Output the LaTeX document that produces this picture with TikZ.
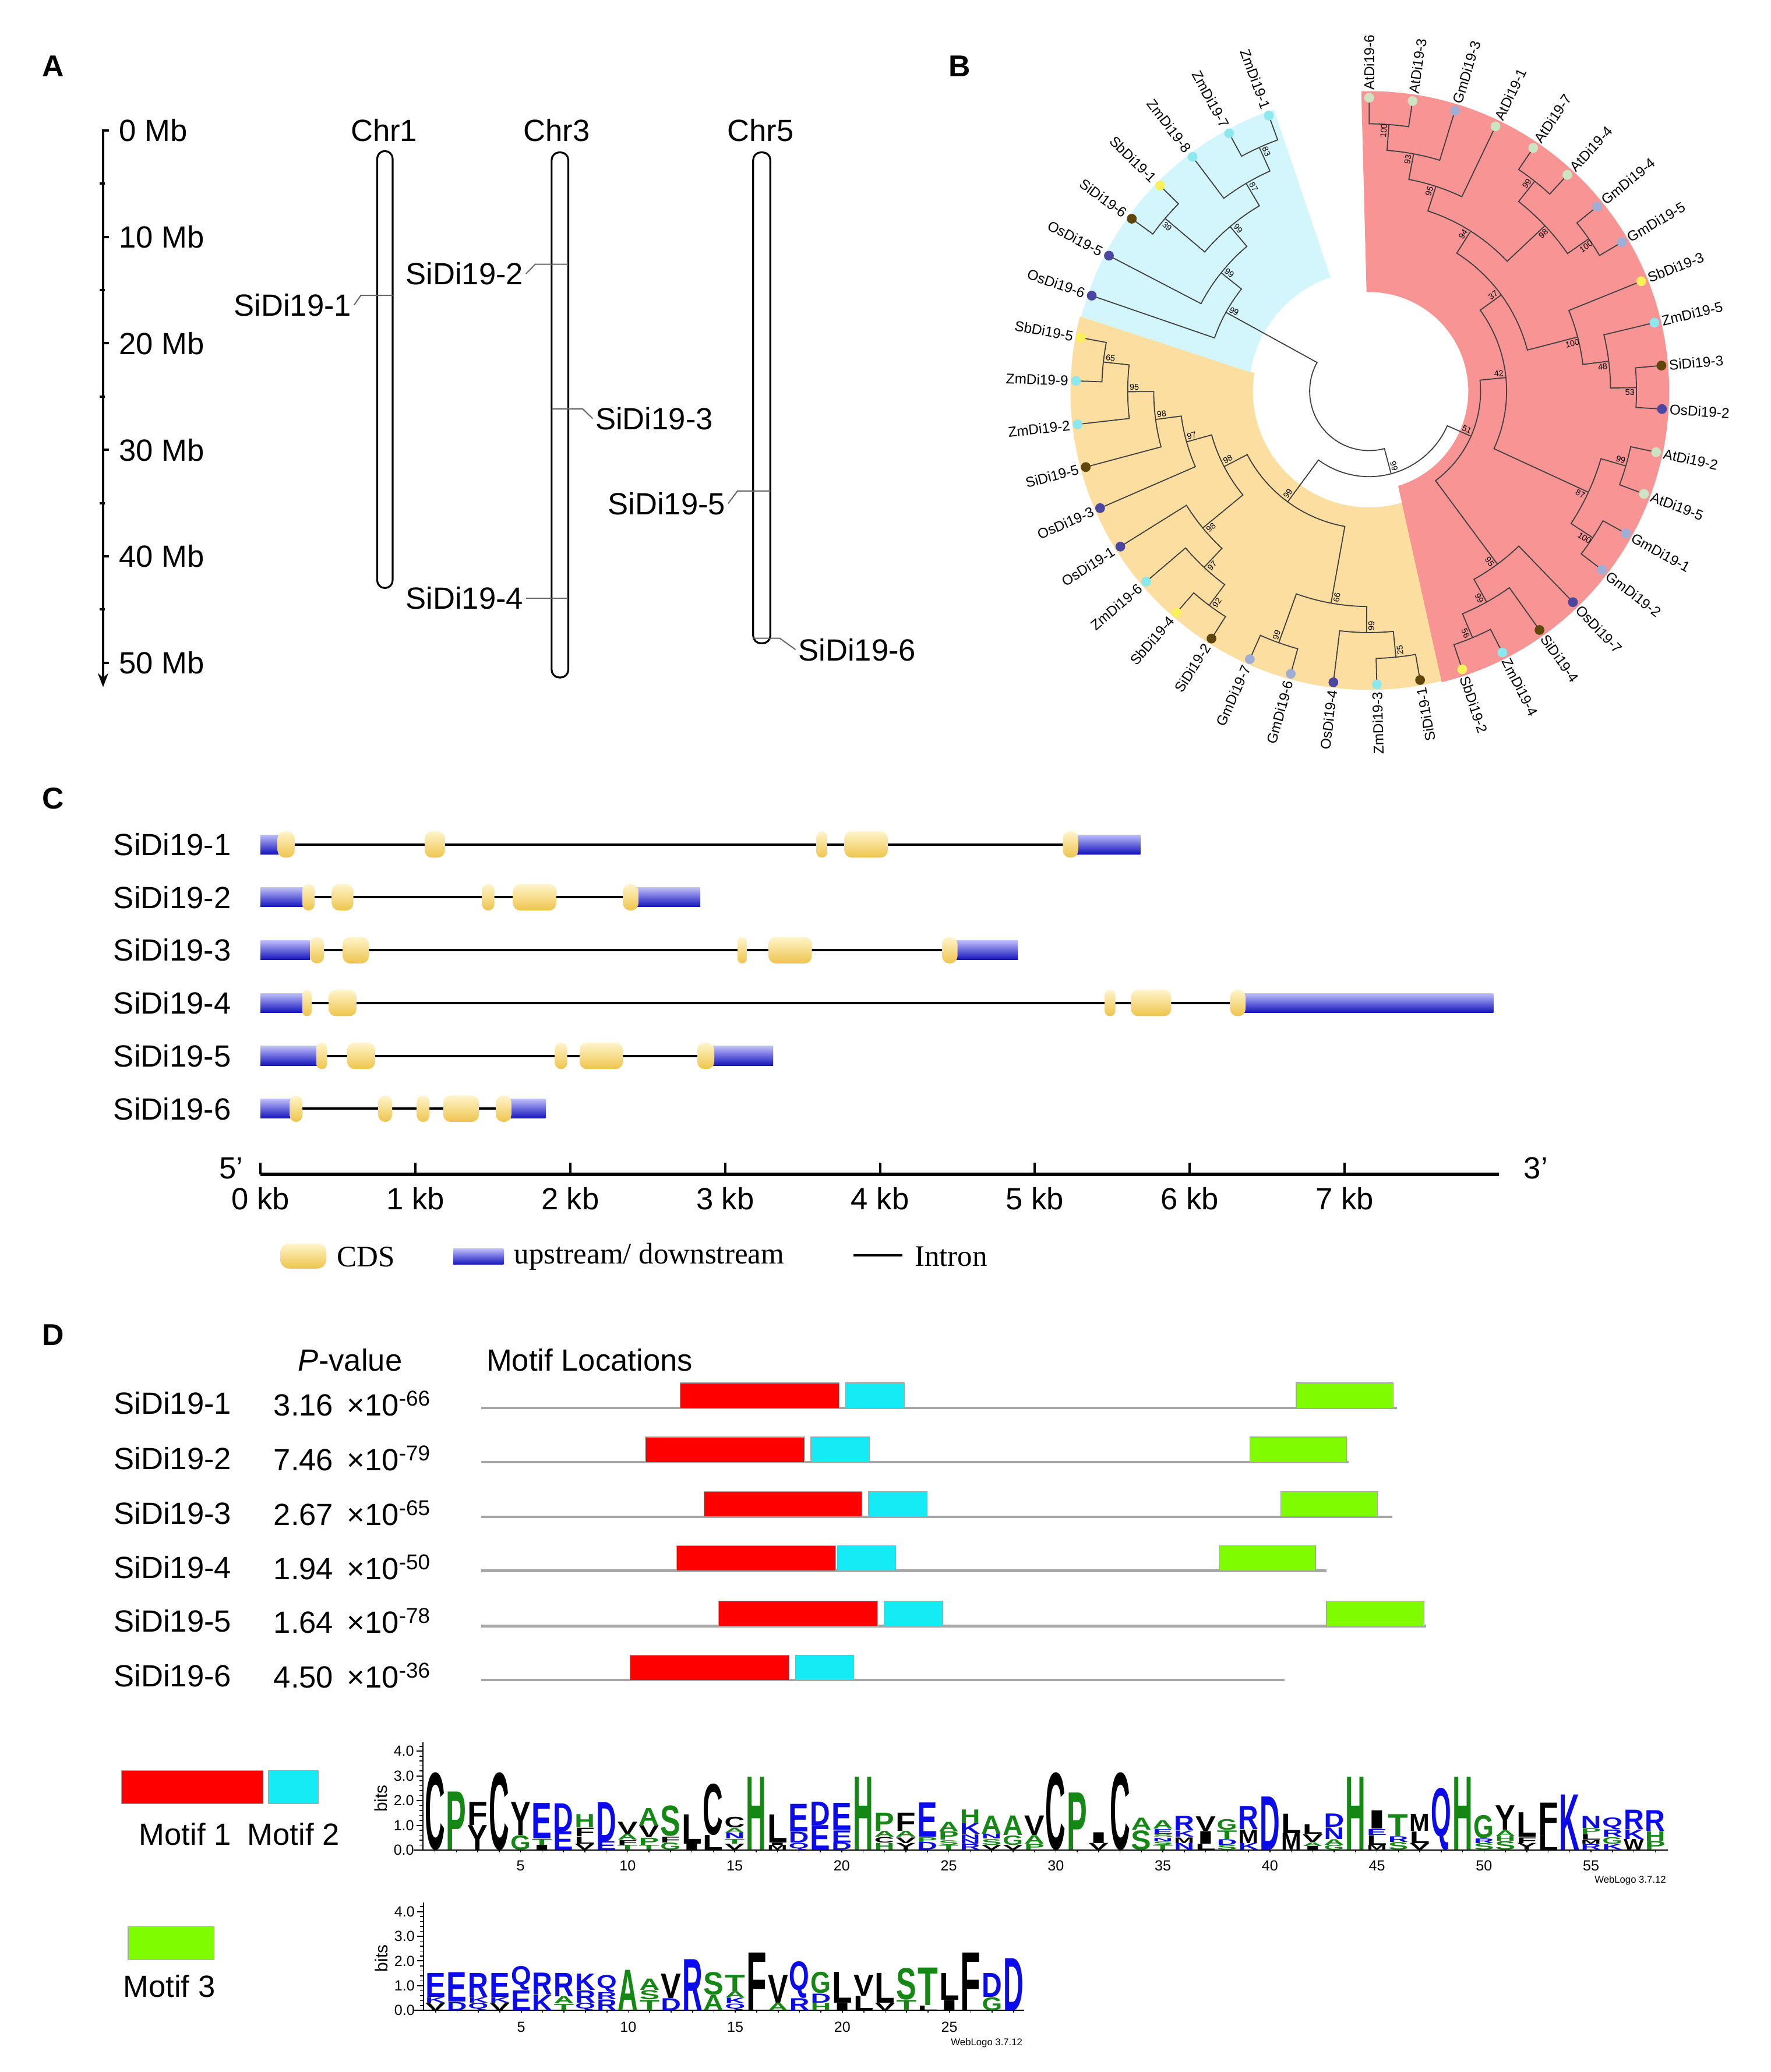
\documentclass[tikz,border=0pt]{standalone}
\usepackage{fontspec}
\setmainfont{Liberation Sans}
\newfontfamily\legserif{Liberation Serif}
\usepackage{graphicx}
\usetikzlibrary{arrows.meta}

% colours
\definecolor{secred}{RGB}{248,148,148}
\definecolor{secorange}{RGB}{252,222,160}
\definecolor{secblue}{RGB}{210,246,252}
\definecolor{atcol}{RGB}{205,228,195}
\definecolor{gmcol}{RGB}{160,174,214}
\definecolor{sbcol}{RGB}{250,240,90}
\definecolor{zmcol}{RGB}{140,232,236}
\definecolor{sicol}{RGB}{95,70,10}
\definecolor{oscol}{RGB}{75,70,160}
\definecolor{utrtop}{RGB}{190,190,250}
\definecolor{utrmid}{RGB}{70,70,225}
\definecolor{utrbot}{RGB}{20,20,190}
\definecolor{cdstop}{RGB}{255,245,205}
\definecolor{cdsmid}{RGB}{248,218,120}
\definecolor{cdsbot}{RGB}{238,196,76}
\definecolor{motifred}{RGB}{255,0,0}
\definecolor{motifcyan}{RGB}{20,235,245}
\definecolor{motifgreen}{RGB}{128,252,0}
\definecolor{wlgreen}{RGB}{20,135,20}
\definecolor{wlblue}{RGB}{10,10,235}

% weblogo letter colours
\def\wlA{wlgreen}\def\wlG{wlgreen}\def\wlH{wlgreen}\def\wlP{wlgreen}\def\wlS{wlgreen}\def\wlT{wlgreen}
\def\wlD{wlblue}\def\wlE{wlblue}\def\wlK{wlblue}\def\wlN{wlblue}\def\wlQ{wlblue}\def\wlR{wlblue}
\def\wlC{black}\def\wlF{black}\def\wlI{black}\def\wlL{black}\def\wlM{black}\def\wlV{black}\def\wlW{black}\def\wlY{black}

\tikzset{
  panel/.style={font=\fontsize{13}{15}\selectfont\bfseries, inner sep=0pt},
  lab/.style={font=\fontsize{13.2}{15}\selectfont, inner sep=1pt},
  leaflab/.style={font=\fontsize{6.1}{7}\selectfont, inner sep=0pt},
  bslab/.style={font=\fontsize{3.6}{4}\selectfont, inner sep=0pt},
  chrom/.style={draw, line width=0.8pt, rounded corners=3.3pt},
  lead/.style={draw=black!60, line width=0.5pt},
  brn/.style={draw=black!75, line width=0.45pt},
  utrshade/.style={top color=utrtop, middle color=utrmid, bottom color=utrbot},
  cdsshade/.style={top color=cdstop, middle color=cdsmid, bottom color=cdsbot},
  intronline/.style={draw=black, line width=1pt},
  gline/.style={draw=black!35, line width=1.1pt},
  motbox/.style={draw=black!35, line width=0.3pt},
  axlab/.style={font=\fontsize{6.3}{7}\selectfont, inner sep=0.5pt},
  wlver/.style={font=\fontsize{4.2}{5}\selectfont, inner sep=0pt}
}

% circular tree helpers (angles in degrees, radii in px)
\newcommand{\clade}[5]{\draw[brn] (#1:#2) -- (#1:#5) arc[start angle=#1, end angle=#3, radius=#5] -- (#3:#4);}
\newcommand{\leaf}[3]{%
  \fill[#3] (#1:222) circle[radius=3.7];
  \ifdim #1pt<-76pt
    \node[leaflab, rotate=#1+180, anchor=east] at (#1:227.5) {#2};
  \else
    \node[leaflab, rotate=#1, anchor=west] at (#1:227.5) {#2};
  \fi}
\newcommand{\bsv}[4]{%
  \pgfmathsetmacro\bsr{#2-5}%
  \pgfmathsetmacro\bsa{#1+#3*3.6/\bsr*57.3}%
  \ifdim #1pt<-76pt \def\bsrot{#1+180}\else\def\bsrot{#1}\fi
  \node[bslab, rotate=\bsrot] at (\bsa:\bsr) {#4};}

% gene structure helpers (row y, start kb, end kb)
\newcommand{\intron}[3]{\draw[intronline] ({197.1+117.2*#2},#1) -- ({197.1+117.2*#3},#1);}
\newcommand{\utr}[3]{\shade[utrshade] ({197.1+117.2*#2},{#1-7.3}) rectangle ({197.1+117.2*#3},{#1+7.3});}
\newcommand{\cds}[3]{%
  \pgfmathsetmacro\cw{(#3-#2)*117.2}%
  \pgfmathsetmacro\rc{min(5.5,\cw/2)*0.569}%
  \shade[cdsshade, rounded corners=\rc pt] ({197.1+117.2*#2},{#1-10}) rectangle ({197.1+117.2*#3},{#1+10});}

% motif track helper (line y, red x1, red x2, cyan x1, cyan x2)
\newcommand{\motifs}[5]{%
  \fill[motifred, motbox] (#2,{#1-19}) rectangle (#3,#1);
  \fill[motifcyan, motbox] (#4,{#1-19}) rectangle (#5,#1);}

% weblogo column: position, letters bottom to top
\newcommand{\lcol}[2]{%
  \gdef\stk{0}%
  \foreach \L/\h in {#2}{%
    \pgfmathsetlengthmacro\lh{\h*10.64pt-0.15pt}%
    \edef\lc{\csname wl\L\endcsname}%
    \node[inner sep=0pt, outer sep=0pt, anchor=south west] at ({\logox+16.2*#1},{\logoy-\stk*18.7})
      {\color{\lc}\resizebox*{8.7pt}{\lh}{\bfseries\L}};%
    \pgfmathsetmacro\tmp{\stk+\h}\global\let\stk\tmp
  }}

\begin{document}
\begin{tikzpicture}[x=0.02cm, y=-0.02cm]
\path[use as bounding box, fill=white] (0,0) rectangle (1340,1568);

% =====================
% A: chromosome map
% =====================
\node[panel] (pA) at (40,50) {A};
\draw[line width=1.2pt, -{Stealth[length=6pt,width=4.5pt]}] (78,97.8) -- (78,520);
\foreach \k in {0,...,5}{
  \pgfmathtruncatemacro\mb{10*\k}
  \draw[line width=1pt] (77.5,{98.6+80.6*\k}) -- ++(5,0);
  \node[lab, anchor=west] at (88,{98.6+80.6*\k}) {\mb\ Mb};
}
\foreach \k in {0,...,4}
  \draw[line width=1pt] (75.5,{138.9+80.6*\k}) -- ++(4,0);

\node[lab] (chr1) at (290.6,98.6) {Chr1};
\node[lab] (chr3) at (421.3,98.6) {Chr3};
\node[lab] (chr5) at (575.5,98.6) {Chr5};
\draw[chrom] (285.4,114.3) rectangle (297.1,445);
\draw[chrom] (417.4,115.3) rectangle (430,512.7);
\draw[chrom] (569.9,115.3) rectangle (582.9,486.8);

\node[lab, anchor=east] (a1) at (268,230.8) {SiDi19-1};
\node[lab, anchor=east] (a2) at (398,207.2) {SiDi19-2};
\node[lab, anchor=west] (a3) at (448.5,316.8) {SiDi19-3};
\node[lab, anchor=east] (a4) at (398,452.8) {SiDi19-4};
\node[lab, anchor=east] (a5) at (551,381) {SiDi19-5};
\node[lab, anchor=west] (a6) at (602,491.6) {SiDi19-6};
\draw[lead] (a1.east) -- (273,223.6) -- (297.1,223.6);
\draw[lead] (a2.east) -- (405,200) -- (430,200);
\draw[lead] (417.4,309.5) -- (441,309.5) -- (a3.west);
\draw[lead] (a4.east) -- (430,452.8);
\draw[lead] (a5.east) -- (558,371.6) -- (582.9,371.6);
\draw[lead] (569.9,483) -- (590,483) -- (a6.west);

% =====================
% B: circular tree
% =====================
\node[panel] (pB) at (726,50) {B};
\coordinate (Bc) at (1036,296);
\begin{scope}[shift={(Bc)}, x=0.02cm, y=0.02cm]
% clade backgrounds
\fill[secorange] (-76:226) arc[start angle=-76, end angle=-194.5, radius=226] -- (-189:88)
  arc[start angle=-189, end angle=-73, radius=88] -- cycle;
\fill[secblue] (165.5:225) arc[start angle=165.5, end angle=108.7, radius=225] -- (108.7:91)
  arc[start angle=108.7, end angle=171, radius=91] -- cycle;
\fill[secred] (91.5:227) arc[start angle=91.5, end angle=-76, radius=227] -- (-73:75)
  arc[start angle=-73, end angle=91.5, radius=75] -- cycle;

% red clade
\clade{90}{222}{81.5}{222}{202.3}
\clade{85.75}{202.3}{73}{222}{182.7}
\clade{79.375}{182.7}{64.5}{222}{163}
\clade{56}{222}{47.5}{222}{202.3}
\clade{39}{222}{30.5}{222}{202.3}
\clade{51.75}{202.3}{34.75}{202.3}{182.7}
\clade{71.94}{163}{43.25}{182.7}{143.4}
\clade{5}{222}{-3.5}{222}{202.3}
\clade{13.5}{222}{0.75}{202.3}{182.7}
\clade{22}{222}{7.125}{182.7}{163}
\clade{57.6}{143.4}{14.56}{163}{123.7}
\clade{-12}{222}{-20.5}{222}{202.3}
\clade{-29}{222}{-37.5}{222}{202.3}
\clade{-16.25}{202.3}{-33.25}{202.3}{182.7}
\clade{36.08}{123.7}{-24.75}{182.7}{104}
\clade{-63}{222}{-71.5}{222}{202.3}
\clade{-54.5}{222}{-67.25}{202.3}{182.7}
\clade{-46}{222}{-60.875}{182.7}{163}
\clade{5.67}{104}{-53.44}{163}{84.3}
% orange clade
\clade{-182}{222}{-190.5}{222}{202.3}
\clade{-173.5}{222}{-186.25}{202.3}{182.7}
\clade{-165}{222}{-179.875}{182.7}{163}
\clade{-156.5}{222}{-172.44}{163}{143.4}
\clade{-131}{222}{-122.5}{222}{202.3}
\clade{-139.5}{222}{-126.75}{202.3}{182.7}
\clade{-148}{222}{-133.125}{182.7}{163}
\clade{-164.47}{143.4}{-140.56}{163}{123.7}
\clade{-114}{222}{-105.5}{222}{202.3}
\clade{-88.5}{222}{-80}{222}{202.3}
\clade{-97}{222}{-84.25}{202.3}{182.7}
\clade{-109.75}{202.3}{-90.625}{182.7}{163}
\clade{-152.5}{123.7}{-100.19}{163}{104}
% blue clade
\clade{-250}{222}{-241.5}{222}{202.3}
\clade{-245.75}{202.3}{-233}{222}{182.7}
\clade{-224.5}{222}{-216}{222}{202.3}
\clade{-239.375}{182.7}{-220.25}{202.3}{163}
\clade{-229.81}{163}{-207.5}{222}{143.4}
\clade{-218.66}{143.4}{-199}{222}{123.7}
% root
\clade{-126.35}{104}{-23.89}{84.3}{64.7}
\clade{-208.83}{123.7}{-75.12}{64.7}{45}

% bootstrap values
\bsv{85.75}{202.3}{1}{100}
\bsv{79.375}{182.7}{1}{93}
\bsv{71.94}{163}{1}{95}
\bsv{51.75}{202.3}{1}{99}
\bsv{34.75}{202.3}{-1}{100}
\bsv{43.25}{182.7}{-1}{98}
\bsv{57.6}{143.4}{1}{94}
\bsv{0.75}{202.3}{-1}{53}
\bsv{7.125}{182.7}{-1}{48}
\bsv{14.56}{163}{-1}{100}
\bsv{36.08}{123.7}{1}{37}
\bsv{-16.25}{202.3}{1}{99}
\bsv{-33.25}{202.3}{-1}{100}
\bsv{-24.75}{182.7}{-1}{87}
\bsv{5.67}{104}{1}{42}
\bsv{-67.25}{202.3}{-1}{56}
\bsv{-60.875}{182.7}{-1}{99}
\bsv{-53.44}{163}{-1}{95}
\bsv{-23.89}{84.3}{1}{51}
\bsv{-186.25}{202.3}{-1}{65}
\bsv{-179.875}{182.7}{-1}{95}
\bsv{-172.44}{163}{-1}{98}
\bsv{-164.47}{143.4}{-1}{97}
\bsv{-126.75}{202.3}{1}{92}
\bsv{-133.125}{182.7}{1}{97}
\bsv{-140.56}{163}{1}{98}
\bsv{-152.5}{123.7}{-1}{98}
\bsv{-109.75}{202.3}{-1}{99}
\bsv{-84.25}{202.3}{1}{25}
\bsv{-90.625}{182.7}{1}{99}
\bsv{-100.19}{163}{1}{66}
\bsv{-126.35}{104}{-1}{99}
\bsv{-245.75}{202.3}{-1}{83}
\bsv{-239.375}{182.7}{-1}{87}
\bsv{-220.25}{202.3}{1}{39}
\bsv{-229.81}{163}{-1}{99}
\bsv{-218.66}{143.4}{-1}{99}
\bsv{-208.83}{123.7}{-1}{99}
\bsv{-75.12}{64.7}{1}{99}

% leaves
\leaf{90}{AtDi19-6}{atcol}
\leaf{81.5}{AtDi19-3}{atcol}
\leaf{73}{GmDi19-3}{gmcol}
\leaf{64.5}{AtDi19-1}{atcol}
\leaf{56}{AtDi19-7}{atcol}
\leaf{47.5}{AtDi19-4}{atcol}
\leaf{39}{GmDi19-4}{gmcol}
\leaf{30.5}{GmDi19-5}{gmcol}
\leaf{22}{SbDi19-3}{sbcol}
\leaf{13.5}{ZmDi19-5}{zmcol}
\leaf{5}{SiDi19-3}{sicol}
\leaf{-3.5}{OsDi19-2}{oscol}
\leaf{-12}{AtDi19-2}{atcol}
\leaf{-20.5}{AtDi19-5}{atcol}
\leaf{-29}{GmDi19-1}{gmcol}
\leaf{-37.5}{GmDi19-2}{gmcol}
\leaf{-46}{OsDi19-7}{oscol}
\leaf{-54.5}{SiDi19-4}{sicol}
\leaf{-63}{ZmDi19-4}{zmcol}
\leaf{-71.5}{SbDi19-2}{sbcol}
\leaf{-80}{SiDi19-1}{sicol}
\leaf{-88.5}{ZmDi19-3}{zmcol}
\leaf{-97}{OsDi19-4}{oscol}
\leaf{-105.5}{GmDi19-6}{gmcol}
\leaf{-114}{GmDi19-7}{gmcol}
\leaf{-122.5}{SiDi19-2}{sicol}
\leaf{-131}{SbDi19-4}{sbcol}
\leaf{-139.5}{ZmDi19-6}{zmcol}
\leaf{-148}{OsDi19-1}{oscol}
\leaf{-156.5}{OsDi19-3}{oscol}
\leaf{-165}{SiDi19-5}{sicol}
\leaf{-173.5}{ZmDi19-2}{zmcol}
\leaf{-182}{ZmDi19-9}{zmcol}
\leaf{-190.5}{SbDi19-5}{sbcol}
\leaf{-199}{OsDi19-6}{oscol}
\leaf{-207.5}{OsDi19-5}{oscol}
\leaf{-216}{SiDi19-6}{sicol}
\leaf{-224.5}{SbDi19-1}{sbcol}
\leaf{-233}{ZmDi19-8}{zmcol}
\leaf{-241.5}{ZmDi19-7}{zmcol}
\leaf{-250}{ZmDi19-1}{zmcol}
\end{scope}

% =====================
% C: gene structures
% =====================
\node[panel] (pC) at (40,604) {C};
% SiDi19-1
\node[lab, anchor=east] (c1) at (177,639) {SiDi19-1};
\intron{639}{0.05}{5.6}
\utr{639}{0}{0.12}\utr{639}{5.27}{5.68}
\cds{639}{0.11}{0.22}\cds{639}{1.06}{1.19}\cds{639}{3.59}{3.66}\cds{639}{3.77}{4.05}\cds{639}{5.18}{5.28}
% SiDi19-2
\node[lab, anchor=east] (c2) at (177,679) {SiDi19-2};
\intron{679}{0.1}{2.5}
\utr{679}{0}{0.28}\utr{679}{2.43}{2.84}
\cds{679}{0.27}{0.35}\cds{679}{0.46}{0.60}\cds{679}{1.43}{1.51}\cds{679}{1.63}{1.91}\cds{679}{2.34}{2.44}
% SiDi19-3
\node[lab, anchor=east] (c3) at (177,719) {SiDi19-3};
\intron{719}{0.1}{4.6}
\utr{719}{0}{0.32}\utr{719}{4.49}{4.89}
\cds{719}{0.32}{0.41}\cds{719}{0.53}{0.70}\cds{719}{3.08}{3.14}\cds{719}{3.28}{3.56}\cds{719}{4.40}{4.50}
% SiDi19-4
\node[lab, anchor=east] (c4) at (177,759) {SiDi19-4};
\intron{759}{0.1}{6.5}
\utr{759}{0}{0.28}\utr{759}{6.35}{7.96}
\cds{759}{0.27}{0.33}\cds{759}{0.44}{0.62}\cds{759}{5.45}{5.52}\cds{759}{5.62}{5.88}\cds{759}{6.26}{6.36}
% SiDi19-5
\node[lab, anchor=east] (c5) at (177,799) {SiDi19-5};
\intron{799}{0.1}{3.0}
\utr{799}{0}{0.37}\utr{799}{2.92}{3.31}
\cds{799}{0.36}{0.43}\cds{799}{0.56}{0.74}\cds{799}{1.90}{1.98}\cds{799}{2.06}{2.34}\cds{799}{2.82}{2.93}
% SiDi19-6
\node[lab, anchor=east] (c6) at (177,839) {SiDi19-6};
\intron{839}{0.1}{1.7}
\utr{839}{0}{0.20}\utr{839}{1.61}{1.84}
\cds{839}{0.19}{0.27}\cds{839}{0.76}{0.85}\cds{839}{1.01}{1.09}\cds{839}{1.18}{1.41}\cds{839}{1.52}{1.62}

% kb scale
\draw[line width=1.5pt] (197.1,888.7) -- (1134.4,888.7);
\foreach \k in {0,...,7}{
  \draw[line width=1pt] ({197.1+117.2*\k},888.7) -- ++(0,-9);
  \node[lab] at ({197.1+117.2*\k},907) {\k\ kb};
}
\node[lab, anchor=east] (p5) at (186,884) {5’};
\node[lab, anchor=west] (p3) at (1151,884) {3’};

% legend
\shade[cdsshade, rounded corners=4pt] (212,941) rectangle (247,960);
\node[lab, anchor=west, font=\legserif\fontsize{12.8}{15}\selectfont] (lcds) at (253,951) {CDS};
\shade[utrshade] (343,945) rectangle (381,957);
\node[lab, anchor=west, font=\legserif\fontsize{12.8}{15}\selectfont] (lutr) at (387,951) {upstream/ downstream};
\draw[intronline] (646,950) -- (683,950);
\node[lab, anchor=west, font=\legserif\fontsize{12.8}{15}\selectfont] (lint) at (690,951) {Intron};

% =====================
% D: motifs
% =====================
\node[panel] (pD) at (40,1010) {D};
\node[lab] (pvh) at (265,1029) {\textit{P}-value};
\node[lab, anchor=west] (mlh) at (366,1029) {Motif Locations};

\node[lab, anchor=west] (d1) at (84,1062) {SiDi19-1};
\node[lab, anchor=west] (v1) at (205,1062) {3.16 \,×10\textsuperscript{-66}};
\draw[gline] (364,1065.5) -- (1057,1065.5);
\motifs{1065.5}{514.7}{635.1}{639.9}{684.2}
\fill[motifgreen, motbox] (980.8,1046.5) rectangle (1054.2,1065.5);

\node[lab, anchor=west] (d2) at (84,1103.5) {SiDi19-2};
\node[lab, anchor=west] (v2) at (205,1103.5) {7.46 \,×10\textsuperscript{-79}};
\draw[gline] (364,1106.5) -- (1020.3,1106.5);
\motifs{1106.5}{488.4}{608.8}{613.6}{657.9}
\fill[motifgreen, motbox] (945.6,1087.5) rectangle (1018.9,1106.5);

\node[lab, anchor=west] (d3) at (84,1145) {SiDi19-3};
\node[lab, anchor=west] (v3) at (205,1145) {2.67 \,×10\textsuperscript{-65}};
\draw[gline] (364,1147.8) -- (1053.5,1147.8);
\motifs{1147.8}{532.7}{652.3}{657.2}{701.4}
\fill[motifgreen, motbox] (969.1,1128.8) rectangle (1042.4,1147.8);

\node[lab, anchor=west] (d4) at (84,1186) {SiDi19-4};
\node[lab, anchor=west] (v4) at (205,1186) {1.94 \,×10\textsuperscript{-50}};
\draw[gline] (364,1188.7) -- (1003.7,1188.7);
\motifs{1188.7}{512}{632.3}{633.7}{677.9}
\fill[motifgreen, motbox] (922.8,1169.7) rectangle (995.4,1188.7);

\node[lab, anchor=west] (d5) at (84,1226.5) {SiDi19-5};
\node[lab, anchor=west] (v5) at (205,1226.5) {1.64 \,×10\textsuperscript{-78}};
\draw[gline] (364,1230.5) -- (1079,1230.5);
\motifs{1230.5}{543.8}{664.1}{669}{713.2}
\fill[motifgreen, motbox] (1003.7,1211.5) rectangle (1077.7,1230.5);

\node[lab, anchor=west] (d6) at (84,1268) {SiDi19-6};
\node[lab, anchor=west] (v6) at (205,1268) {4.50 \,×10\textsuperscript{-36}};
\draw[gline] (364,1271.4) -- (971.9,1271.4);
\motifs{1271.4}{476.7}{597}{601.9}{646.1}

% motif legend
\fill[motifred, motbox] (92,1340) rectangle (199,1365);
\fill[motifcyan, motbox] (203,1340) rectangle (241,1365);
\node[lab] (m1) at (140,1388) {Motif 1};
\node[lab] (m2) at (222,1388) {Motif 2};
\fill[motifgreen, motbox] (97,1458) rectangle (162,1483);
\node[lab] (m3) at (128,1503) {Motif 3};

% =====================
% Sequence logo, motif 1
% =====================
\def\logox{305.2}\def\logoy{1400}
\draw[line width=0.5pt] (320,1400) -- (320,1318.5);
\foreach \t in {0,...,4}{
  \draw[line width=0.5pt] (320,{1400-18.7*\t}) -- ++(-5,0);
  \node[axlab, anchor=east] at (314.5,{1400-18.7*\t}) {\t.0};
}
\foreach \t in {1,...,21}
  \draw[line width=0.4pt] (320,{1400-3.74*\t}) -- ++(-2.5,0);
\node[font=\fontsize{7.5}{8}\selectfont, rotate=90, inner sep=0pt] (bits1) at (288,1361) {bits};
\draw[line width=0.5pt] (313,1400) -- (1262,1400);
\foreach \p in {1,...,58}
  \draw[line width=0.4pt] ({312.9+16.2*\p},1400) -- ++(0,1.8);
\foreach \p in {5,10,...,55}
  \node[axlab] at ({312.9+16.2*\p},1412) {\p};
\node[wlver, anchor=east] (wl1) at (1261,1423) {WebLogo 3.7.12};

\lcol{1}{C/3.16}
\lcol{2}{P/2.36}
\lcol{3}{Y/1.0, F/0.95}
\lcol{4}{C/3.16}
\lcol{5}{G/0.6, Y/1.35}
\lcol{6}{I/0.2, T/0.25, E/1.45}
\lcol{7}{E/0.75, D/1.15}
\lcol{8}{V/0.25, L/0.3, F/0.35, H/0.55}
\lcol{9}{E/0.35, D/1.6}
\lcol{10}{T/0.2, F/0.2, A/0.25, V/0.5}
\lcol{11}{T/0.2, P/0.3, V/0.5, A/0.7}
\lcol{12}{G/0.3, F/0.25, S/1.25}
\lcol{13}{I/0.25, L/1.2}
\lcol{14}{L/0.6, C/2.1}
\lcol{15}{V/0.25, T/0.2, N/0.25, A/0.2, C/0.45}
\lcol{16}{H/2.96}
\lcol{17}{M/0.2, I/0.1, L/1.15}
\lcol{18}{Q/0.3, D/0.45, E/1.13}
\lcol{19}{E/1.0, D/0.96}
\lcol{20}{D/0.3, E/0.5, E/1.1}
\lcol{21}{H/2.96}
\lcol{22}{H/0.28, C/0.24, A/0.25, P/0.75}
\lcol{23}{Y/0.28, V/0.24, A/0.25, F/0.75}
\lcol{24}{D/0.32, P/0.2, E/1.4}
\lcol{25}{T/0.2, S/0.2, P/0.35, A/0.4}
\lcol{26}{R/0.24, N/0.2, N/0.2, K/0.45, H/0.55}
\lcol{27}{V/0.2, S/0.25, N/0.2, A/0.75}
\lcol{28}{V/0.2, G/0.4, A/0.8}
\lcol{29}{P/0.24, A/0.36, V/0.8}
\lcol{30}{C/3.16}
\lcol{31}{P/2.32}
\lcol{32}{V/0.28, I/0.45}
\lcol{33}{C/3.16}
\lcol{34}{S/0.8, A/0.5}
\lcol{35}{T/0.2, S/0.15, N/0.15, S/0.15, E/0.2, A/0.35}
\lcol{36}{N/0.28, M/0.24, K/0.26, R/0.6}
\lcol{37}{L/0.24, I/0.52, V/0.6}
\lcol{38}{S/0.2, D/0.24, T/0.36, G/0.45}
\lcol{39}{K/0.28, M/0.56, R/0.95}
\lcol{40}{D/2.16}
\lcol{41}{M/0.68, L/0.8}
\lcol{42}{I/0.16, A/0.16, V/0.32, L/0.4}
\lcol{43}{G/0.2, A/0.24, N/0.48, D/0.55}
\lcol{44}{H/2.96}
\lcol{45}{M/0.2, L/0.4, E/0.25, I/0.75}
\lcol{46}{S/0.32, R/0.24, T/0.9}
\lcol{47}{V/0.28, L/0.48, M/0.7}
\lcol{48}{Q/2.52}
\lcol{49}{H/2.96}
\lcol{50}{S/0.28, R/0.2, G/0.95}
\lcol{51}{S/0.36, H/0.2, A/0.25, Y/1.0}
\lcol{52}{Y/0.28, F/0.24, L/1.0}
\lcol{53}{L/0.6, F/1.32}
\lcol{54}{K/2.24}
\lcol{55}{R/0.24, M/0.16, L/0.24, P/0.24, N/0.5}
\lcol{56}{K/0.24, G/0.28, R/0.3, Q/0.5}
\lcol{57}{W/0.44, K/0.4, R/0.8}
\lcol{58}{P/0.36, H/0.4, R/0.85}

% =====================
% Sequence logo, motif 3
% =====================
\def\logox{305.7}\def\logoy{1521.4}
\draw[line width=0.5pt] (320.5,1521.4) -- (320.5,1439.9);
\foreach \t in {0,...,4}{
  \draw[line width=0.5pt] (320.5,{1521.4-18.7*\t}) -- ++(-5,0);
  \node[axlab, anchor=east] at (315,{1521.4-18.7*\t}) {\t.0};
}
\foreach \t in {1,...,21}
  \draw[line width=0.4pt] (320.5,{1521.4-3.74*\t}) -- ++(-2.5,0);
\node[font=\fontsize{7.5}{8}\selectfont, rotate=90, inner sep=0pt] (bits2) at (288.5,1482) {bits};
\draw[line width=0.5pt] (313.5,1521.4) -- (775,1521.4);
\foreach \p in {1,...,28}
  \draw[line width=0.4pt] ({313.4+16.2*\p},1521.4) -- ++(0,1.8);
\foreach \p in {5,10,...,25}
  \node[axlab] at ({313.4+16.2*\p},1534) {\p};
\node[wlver, anchor=east] (wl2) at (774,1546) {WebLogo 3.7.12};

\lcol{1}{V/0.31, K/0.24, E/0.98}
\lcol{2}{D/0.35, E/1.2}
\lcol{3}{Q/0.31, K/0.24, R/0.98}
\lcol{4}{V/0.31, K/0.24, E/0.98}
\lcol{5}{E/0.82, Q/0.98}
\lcol{6}{K/0.63, R/0.9}
\lcol{7}{T/0.27, A/0.3, R/0.96}
\lcol{8}{Q/0.31, R/0.51, K/0.67}
\lcol{9}{R/0.45, R/0.3, Q/0.7}
\lcol{10}{A/1.65}
\lcol{11}{T/0.43, S/0.39, A/0.47}
\lcol{12}{D/0.5, V/1.0}
\lcol{13}{R/2.08}
\lcol{14}{A/0.63, S/0.94}
\lcol{15}{Q/0.27, K/0.24, A/0.27, T/0.67}
\lcol{16}{F/2.35}
\lcol{17}{A/0.31, V/1.14}
\lcol{18}{R/0.5, Q/1.5}
\lcol{19}{H/0.31, D/0.38, G/0.88}
\lcol{20}{I/0.31, L/1.26}
\lcol{21}{L/0.59, V/0.86}
\lcol{22}{V/0.31, L/1.22}
\lcol{23}{T/0.43, S/1.3}
\lcol{24}{L/0.2, T/1.53}
\lcol{25}{I/0.43, L/1.1}
\lcol{26}{F/2.35}
\lcol{27}{G/0.55, D/0.98}
\lcol{28}{D/2.12}
\end{tikzpicture}
\end{document}
